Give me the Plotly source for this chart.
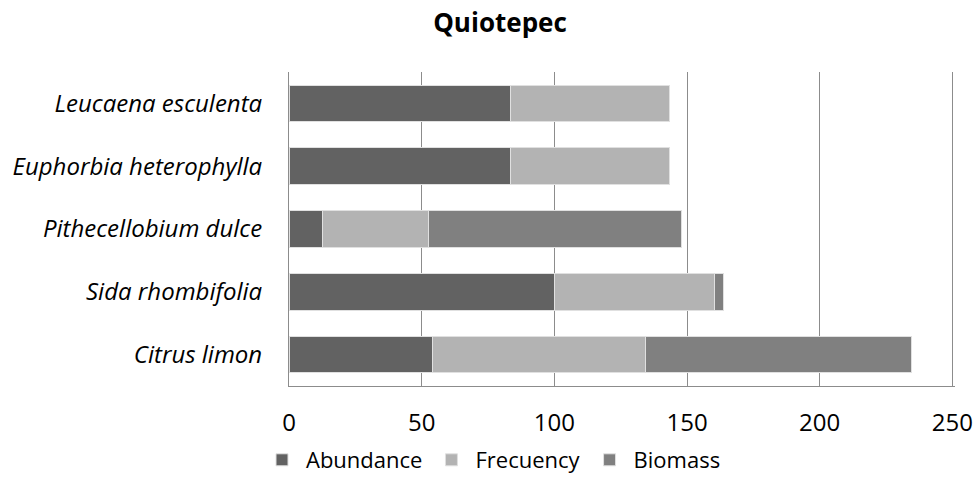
import plotly.graph_objects as go

species = ["Citrus limon", "Sida rhombifolia", "Pithecellobium dulce",
           "Euphorbia heterophylla", "Leucaena esculenta"]
abundance = [54.0, 100.0, 12.5, 83.3, 83.3]
frecuency = [80.4, 60.2, 40.1, 60.0, 60.0]
biomass = [100.2, 3.4, 95.3, 0, 0]
x_ticks = [0, 50, 100, 150, 200, 250]

series = [("Abundance", abundance, "#626262"),
          ("Frecuency", frecuency, "#b3b3b3"),
          ("Biomass", biomass, "#808080")]

W, H = 977, 496

fig = go.Figure()
for name, vals, col in series:
    fig.add_trace(go.Bar(
        y=[f"<i>{s}</i>" for s in species], x=vals, name=name, orientation="h",
        marker=dict(color=col, line=dict(color="#e0e0e0", width=1)),
    ))

fig.update_layout(
    barmode="stack",
    bargap=0.42,
    width=W, height=H,
    margin=dict(l=289, r=22, t=72, b=110),
    paper_bgcolor="white", plot_bgcolor="white",
    font=dict(family="Open Sans", size=22, color="#000000"),
    title=dict(text="<b>Quiotepec</b>", xref="container", x=500 / W, xanchor="center",
               yref="container", y=1 - 23 / H, yanchor="middle",
               font=dict(size=26, family="Open Sans")),
    legend=dict(orientation="h", xref="container", x=492 / W, xanchor="center",
                yref="container", y=1 - 460 / H, yanchor="middle",
                font=dict(size=22), traceorder="normal", itemwidth=38),
    xaxis=dict(range=[0, 251], tickvals=x_ticks, showgrid=True, gridcolor="#8c8c8c",
               gridwidth=1, zeroline=False, showline=True, linecolor="#8c8c8c",
               linewidth=1, ticks="", ticklabelstandoff=15, tickfont=dict(size=24),
               ticklabeloverflow="allow", automargin=False),
    yaxis=dict(showline=True, linecolor="#8c8c8c", linewidth=1, ticks="",
               ticklabelstandoff=21, tickfont=dict(size=24), showgrid=False,
               automargin=False),
)

fig.write_html("out.html", config={"displayModeBar": False},
               post_script="document.body.style.margin='0';document.body.style.overflow='hidden';")
